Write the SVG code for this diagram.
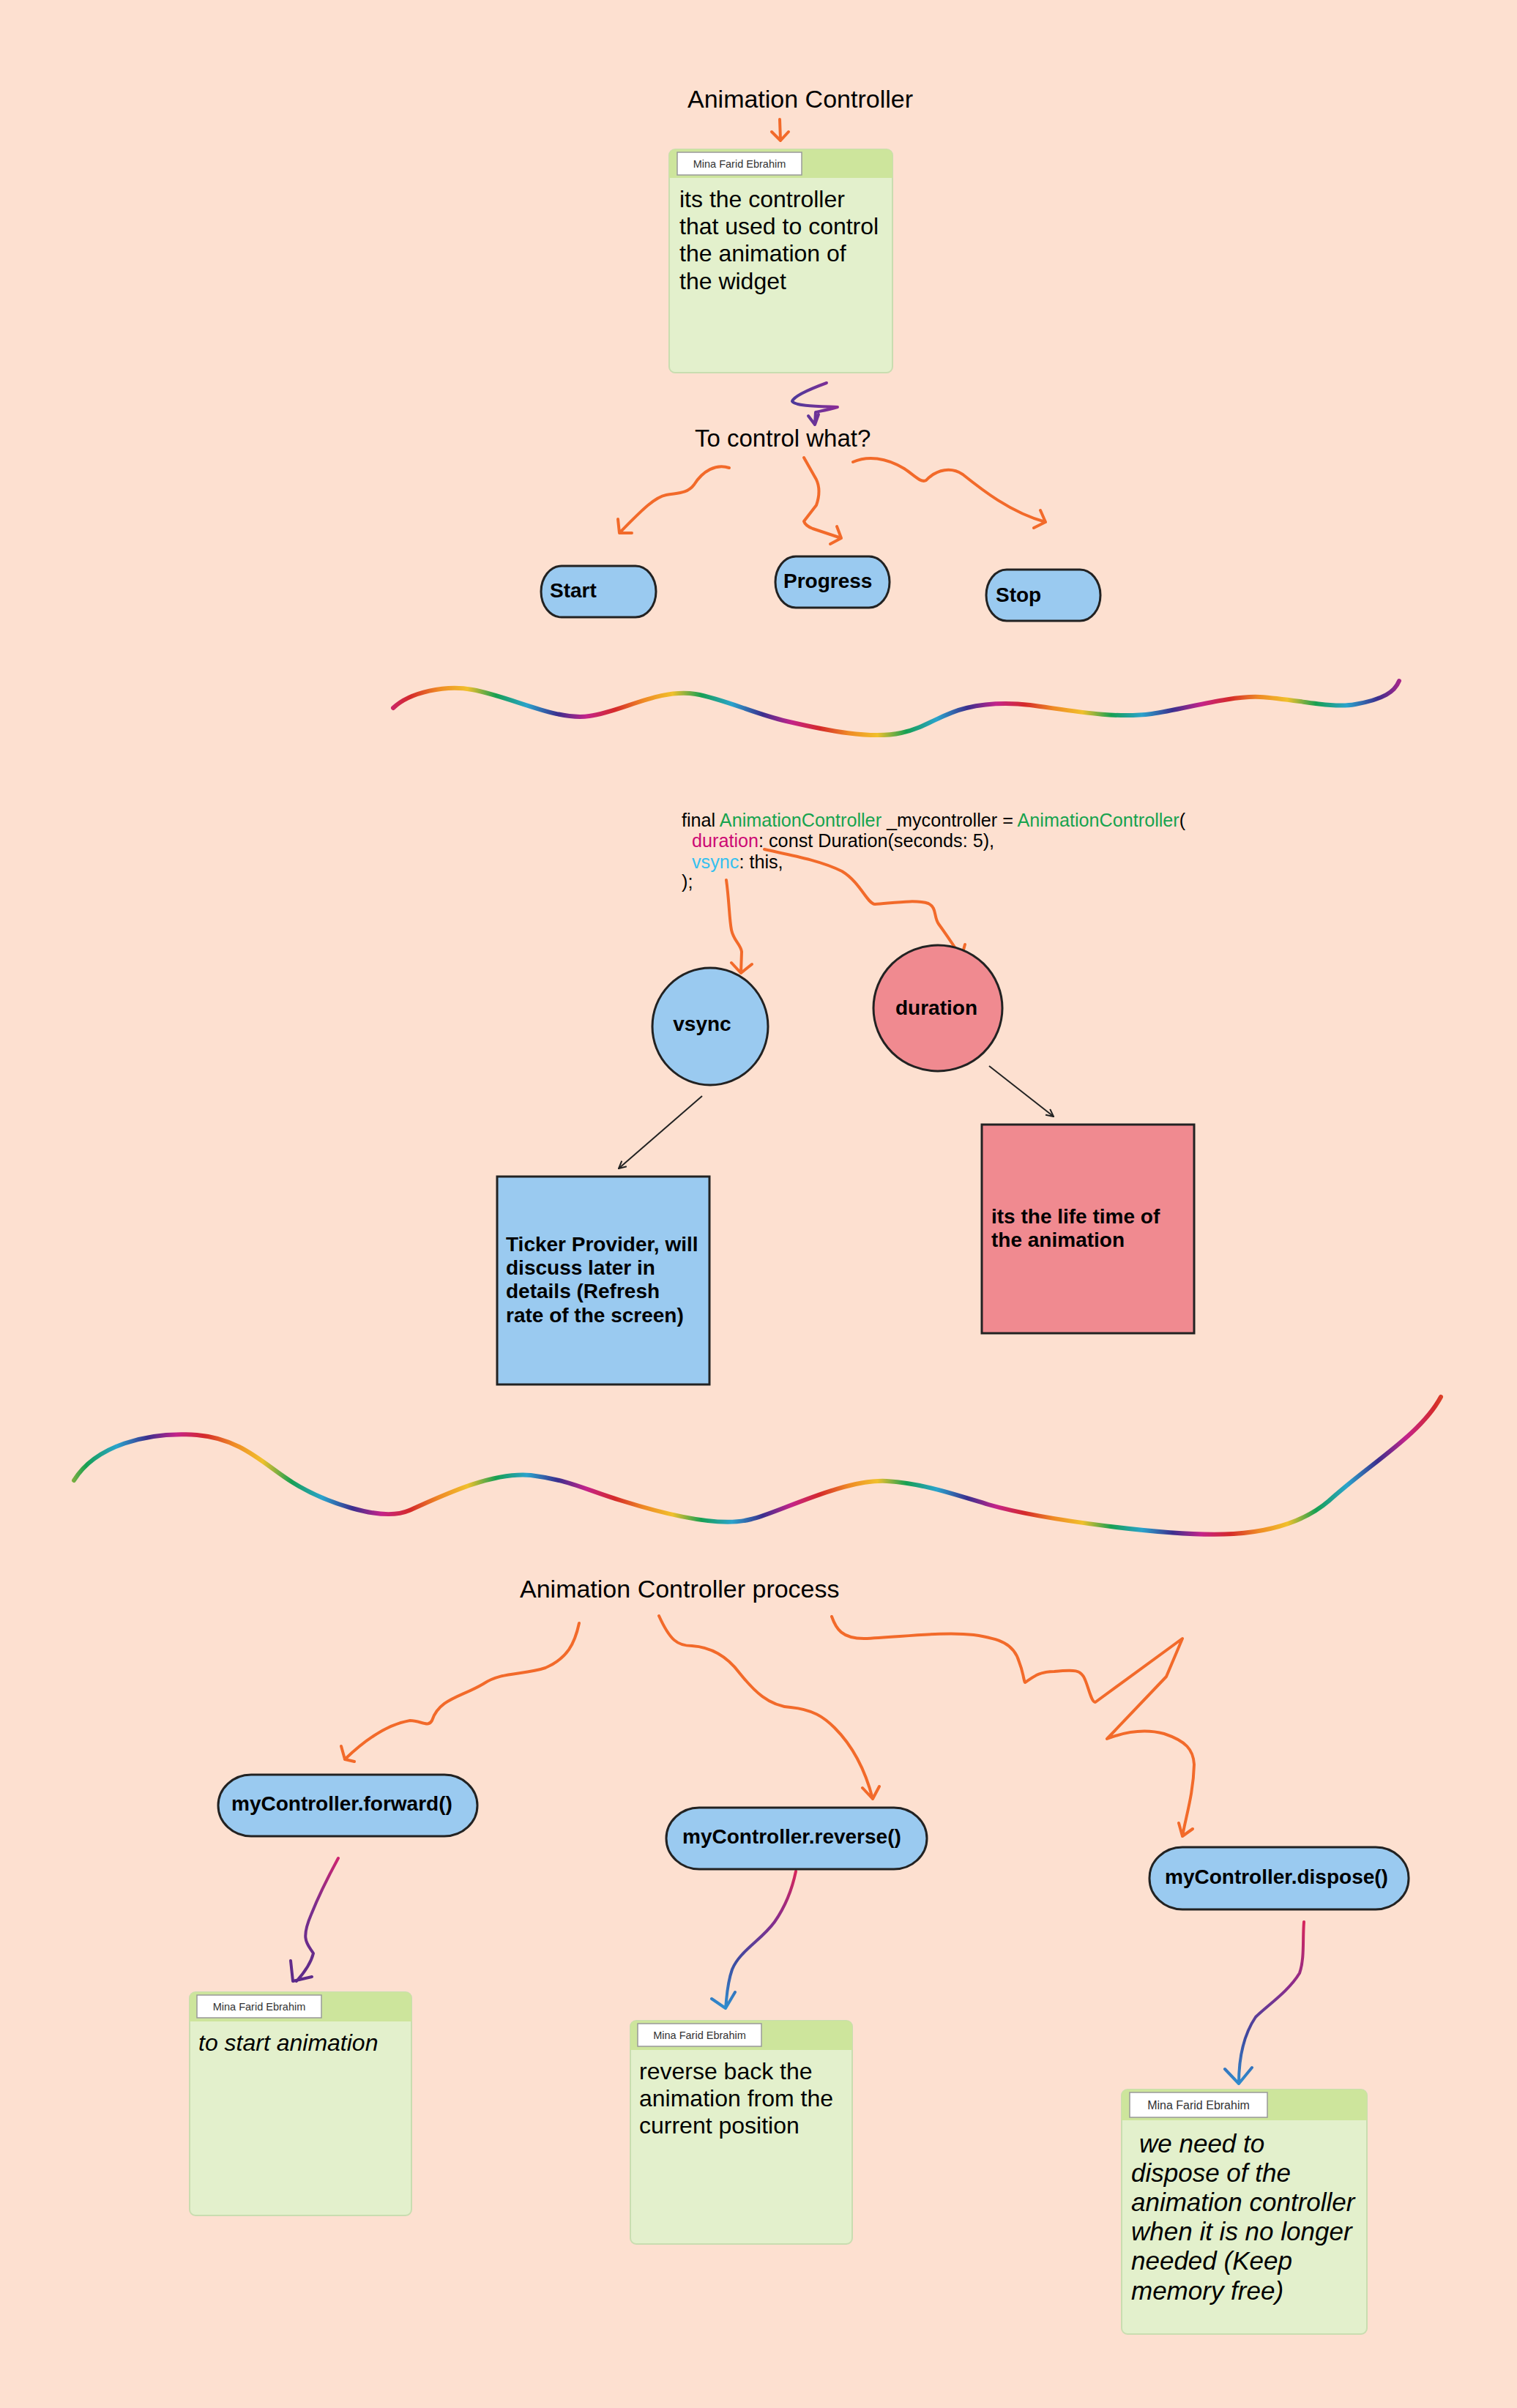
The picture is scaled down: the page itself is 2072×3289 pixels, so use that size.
<svg xmlns="http://www.w3.org/2000/svg" width="2072" height="3289" viewBox="0 0 2072 3289">
<defs>
<style>
.bg{fill:#fde0d0}
.t{font-family:"Liberation Sans",Arial,sans-serif;fill:#000}
.b{font-family:"Liberation Sans",Arial,sans-serif;font-weight:bold;font-size:28px;fill:#000}
.o{fill:none;stroke:#f26a2a;stroke-width:4;stroke-linecap:round;stroke-linejoin:round}
.k{fill:none;stroke:#222;stroke-width:2}
.node{stroke:#222;stroke-width:3}
.blue{fill:#9acaf0}
.pink{fill:#f08a90}
.note{fill:#e3f0cc;stroke:#c9ddb0;stroke-width:2}
.head{fill:#cde59c}
.label{fill:#fff;stroke:#999;stroke-width:1.5}
.lt{font-family:"Liberation Sans",Arial,sans-serif;font-size:14.5px;fill:#333;text-anchor:middle}
.lt16{font-size:16px}
.nt{font-family:"Liberation Sans",Arial,sans-serif;font-size:32px;fill:#000}
.nt35{font-size:35px}
.code{font-family:"Liberation Sans",Arial,sans-serif;font-size:25.2px;fill:#000}
.rb{fill:none;stroke-width:6;stroke-linecap:round}
</style>
<linearGradient id="rainbow" gradientUnits="userSpaceOnUse" x1="0" y1="0" x2="280" y2="0" spreadMethod="repeat">
<stop offset="0" stop-color="#d52a2a"/>
<stop offset="0.14" stop-color="#ef8a25"/>
<stop offset="0.28" stop-color="#f1c02c"/>
<stop offset="0.42" stop-color="#17a052"/>
<stop offset="0.57" stop-color="#2aa3cc"/>
<stop offset="0.72" stop-color="#3b2f8e"/>
<stop offset="0.86" stop-color="#c4238a"/>
<stop offset="1" stop-color="#d52a2a"/>
</linearGradient>
<linearGradient id="g1" gradientUnits="userSpaceOnUse" x1="0" y1="2535" x2="0" y2="2710">
<stop offset="0" stop-color="#d1256f"/>
<stop offset="0.4" stop-color="#7a2e8e"/>
<stop offset="1" stop-color="#5a2a8a"/>
</linearGradient>
<linearGradient id="g2" gradientUnits="userSpaceOnUse" x1="0" y1="2555" x2="0" y2="2745">
<stop offset="0" stop-color="#d8265a"/>
<stop offset="0.35" stop-color="#8a2c8c"/>
<stop offset="0.65" stop-color="#3d4aa0"/>
<stop offset="1" stop-color="#2f8fd0"/>
</linearGradient>
<linearGradient id="g3" gradientUnits="userSpaceOnUse" x1="0" y1="2622" x2="0" y2="2850">
<stop offset="0" stop-color="#d8265a"/>
<stop offset="0.4" stop-color="#8a2c8c"/>
<stop offset="0.7" stop-color="#3d4aa0"/>
<stop offset="1" stop-color="#2f8fd0"/>
</linearGradient>
<linearGradient id="gp" gradientUnits="userSpaceOnUse" x1="1080" y1="0" x2="1145" y2="0">
<stop offset="0" stop-color="#4a3a9a"/>
<stop offset="1" stop-color="#8a2c96"/>
</linearGradient>
<marker id="ah" viewBox="0 0 12 12" refX="11" refY="6" markerWidth="12" markerHeight="12" markerUnits="userSpaceOnUse" orient="auto">
<path d="M1,1 L11,6 L1,11" fill="none" stroke="#222" stroke-width="2"/>
</marker>
</defs>
<rect class="bg" x="0" y="0" width="2072" height="3289"/>

<g id="connectors">
<path class="o" d="M1065,163 L1066,191 M1054,180 L1066,192 L1077,180"/>
<path fill="none" stroke="url(#gp)" stroke-width="4" stroke-linecap="round" stroke-linejoin="round" d="M1129,523 C1110,530 1085,540 1082,548 C1086,555 1120,555 1144,556 C1130,560 1118,562 1114,563 L1113,580 M1104,568 L1113,580 L1118,566"/>
<path class="o" d="M996,639 C978,633 960,643 948,662 C938,675 925,673 910,676 C895,679 880,693 846,728 M844,709 L846,728 L863,728"/>
<path class="o" d="M1098,625 L1115,655 Q1122,670 1115,690 L1098,712 Q1100,718 1110,722 L1149,735 M1143,719 L1149,735 L1134,743"/>
<path class="o" d="M1165,631 C1185,622 1210,625 1235,640 C1250,650 1258,660 1265,656 C1280,640 1300,638 1315,648 C1340,668 1380,700 1428,713 M1421,697 L1428,713 L1412,721"/>
<path class="o" d="M992,1202 C996,1230 996,1255 999,1270 C1002,1285 1012,1290 1013,1300 L1012,1329 M999,1315 L1012,1329 L1027,1317"/>
<path class="o" d="M1044,1160 C1080,1168 1120,1175 1150,1190 C1175,1205 1185,1235 1195,1235 C1215,1234 1250,1228 1268,1234 C1280,1240 1275,1252 1282,1262 C1295,1280 1305,1295 1313,1308 M1318,1290 L1313,1308 L1295,1303"/>
<path class="k" marker-end="url(#ah)" d="M959,1497 L845,1596"/>
<path class="k" marker-end="url(#ah)" d="M1351,1456 L1439,1525"/>
<path class="o" d="M791,2217 C785,2245 775,2265 745,2278 C715,2288 685,2283 660,2300 C630,2318 600,2320 590,2350 C585,2360 575,2350 560,2350 C530,2355 500,2375 471,2403 M466,2385 L471,2403 L484,2406"/>
<path class="o" d="M900,2207 C915,2240 925,2248 945,2248 C975,2250 995,2265 1010,2285 C1030,2310 1050,2330 1080,2332 C1110,2335 1125,2345 1140,2360 C1170,2390 1185,2430 1192,2457 M1178,2442 L1192,2457 L1201,2440"/>
<path class="o" d="M1136,2208 C1142,2225 1150,2238 1180,2238 C1230,2236 1290,2228 1330,2233 C1365,2238 1385,2245 1392,2270 C1398,2285 1398,2295 1400,2298 C1412,2290 1420,2283 1440,2283 C1470,2280 1475,2282 1480,2290 C1486,2300 1490,2325 1496,2325 L1615,2238 L1593,2290 L1512,2375 C1530,2368 1560,2360 1590,2368 C1620,2378 1630,2390 1631,2410 C1630,2450 1620,2480 1615,2508 M1610,2490 L1615,2508 L1629,2498"/>
<path fill="none" stroke="url(#g1)" stroke-width="4" stroke-linecap="round" stroke-linejoin="round" d="M462,2538 C450,2560 435,2590 425,2615 C410,2650 420,2655 428,2668 C425,2680 415,2695 405,2706 M397,2678 L400,2706 L426,2700"/>
<path fill="none" stroke="url(#g2)" stroke-width="4" stroke-linecap="round" stroke-linejoin="round" d="M1087,2556 C1082,2580 1072,2605 1058,2625 C1040,2650 1010,2665 1000,2690 C993,2710 993,2725 991,2743 M972,2730 L991,2743 L1004,2721"/>
<path fill="none" stroke="url(#g3)" stroke-width="4" stroke-linecap="round" stroke-linejoin="round" d="M1781,2625 C1779,2650 1782,2675 1775,2695 C1760,2720 1730,2740 1715,2755 C1698,2780 1692,2810 1692,2846 M1673,2826 L1692,2846 L1710,2824"/>
</g>

<g id="wave1">
<path class="rb" stroke="url(#rainbow)" d="M537,967 C560,945 610,935 645,942 C700,952 760,985 805,978 C850,972 900,940 950,948 C990,955 1030,975 1074,985 C1130,998 1190,1010 1231,1001 C1265,994 1285,975 1320,967 C1350,960 1380,960 1407,963 C1460,970 1520,982 1573,975 C1620,968 1680,950 1721,952 C1770,955 1820,968 1851,962 C1890,955 1905,945 1911,930"/>
</g>
<g id="wave2">
<path class="rb" stroke="url(#rainbow)" d="M101,2022 C130,1975 200,1955 269,1960 C330,1965 360,2000 400,2025 C440,2050 520,2080 559,2063 C600,2045 670,2010 725,2015 C780,2022 800,2035 850,2050 C930,2075 990,2085 1026,2075 C1060,2068 1150,2020 1211,2023 C1260,2026 1300,2040 1350,2055 C1420,2075 1600,2100 1685,2095 C1730,2092 1780,2080 1815,2050 C1870,2000 1940,1960 1968,1908"/>
</g>

<g id="title">
<text class="t" x="1093" y="147" font-size="34" text-anchor="middle">Animation Controller</text>
</g>

<g id="note1">
<rect class="note" x="914" y="204" width="305" height="305" rx="8"/>
<path class="head" d="M914,243 V212 a8,8 0 0 1 8,-8 H1211 a8,8 0 0 1 8,8 V243 Z"/>
<rect class="label" x="925" y="208" width="170" height="31"/>
<text class="lt" x="1010" y="229">Mina Farid Ebrahim</text>
<text class="nt" x="928"><tspan x="928" y="283">its the controller</tspan><tspan x="928" y="320">that used to control</tspan><tspan x="928" y="357">the animation of</tspan><tspan x="928" y="395">the widget</tspan></text>
</g>

<g id="question">
<text class="t" x="949" y="610" font-size="33">To control what?</text>
</g>

<g id="start">
<rect class="node blue" x="739" y="773" width="157" height="70" rx="28" ry="35"/>
<text class="b" x="751" y="816">Start</text>
</g>
<g id="progress">
<rect class="node blue" x="1059" y="760" width="156" height="70" rx="28" ry="35"/>
<text class="b" x="1070" y="803">Progress</text>
</g>
<g id="stop">
<rect class="node blue" x="1347" y="778" width="156" height="70" rx="28" ry="35"/>
<text class="b" x="1360" y="822">Stop</text>
</g>

<g id="code">
<text class="code" x="931" y="1129">final <tspan fill="#16a34e">AnimationController</tspan> _mycontroller = <tspan fill="#16a34e">AnimationController</tspan>(</text>
<text class="code" x="945" y="1157"><tspan fill="#cc0a74">duration</tspan>: const Duration(seconds: 5),</text>
<text class="code" x="945" y="1186"><tspan fill="#35c0ef">vsync</tspan>: this,</text>
<text class="code" x="931" y="1213">);</text>
</g>

<g id="vsync">
<ellipse class="node blue" cx="970" cy="1402" rx="79" ry="80"/>
<text class="b" x="959" y="1408" text-anchor="middle">vsync</text>
</g>
<g id="duration">
<ellipse class="node pink" cx="1281" cy="1377" rx="88" ry="86"/>
<text class="b" x="1279" y="1386" text-anchor="middle">duration</text>
</g>

<g id="ticker">
<rect class="node blue" x="679" y="1607" width="290" height="284"/>
<text class="b"><tspan x="691" y="1709">Ticker Provider, will</tspan><tspan x="691" y="1741">discuss later in</tspan><tspan x="691" y="1773">details (Refresh</tspan><tspan x="691" y="1806">rate of the screen)</tspan></text>
</g>
<g id="lifetime">
<rect class="node pink" x="1341" y="1536" width="290" height="285"/>
<text class="b"><tspan x="1354" y="1671">its the life time of</tspan><tspan x="1354" y="1703">the animation</tspan></text>
</g>

<g id="process">
<text class="t" x="710" y="2182" font-size="34">Animation Controller process</text>
</g>

<g id="forward">
<rect class="node blue" x="298" y="2424" width="354" height="84" rx="45" ry="42"/>
<text class="b" x="316" y="2473">myController.forward()</text>
</g>
<g id="reverse">
<rect class="node blue" x="910" y="2469" width="356" height="84" rx="45" ry="42"/>
<text class="b" x="932" y="2518">myController.reverse()</text>
</g>
<g id="dispose">
<rect class="node blue" x="1570" y="2523" width="354" height="85" rx="45" ry="42"/>
<text class="b" x="1591" y="2573">myController.dispose()</text>
</g>

<g id="note2">
<rect class="note" x="259" y="2721" width="303" height="305" rx="8"/>
<path class="head" d="M259,2761 V2729 a8,8 0 0 1 8,-8 H554 a8,8 0 0 1 8,8 V2761 Z"/>
<rect class="label" x="269" y="2725" width="170" height="31"/>
<text class="lt" x="354" y="2746">Mina Farid Ebrahim</text>
<text class="nt" x="271" y="2801" font-style="italic">to start animation</text>
</g>

<g id="note3">
<rect class="note" x="861" y="2760" width="303" height="305" rx="8"/>
<path class="head" d="M861,2800 V2768 a8,8 0 0 1 8,-8 H1156 a8,8 0 0 1 8,8 V2800 Z"/>
<rect class="label" x="871" y="2764" width="169" height="31"/>
<text class="lt" x="955.5" y="2785">Mina Farid Ebrahim</text>
<text class="nt"><tspan x="873" y="2840">reverse back the</tspan><tspan x="873" y="2877">animation from the</tspan><tspan x="873" y="2914">current position</tspan></text>
</g>

<g id="note4">
<rect class="note" x="1532" y="2854" width="335" height="334" rx="8"/>
<path class="head" d="M1532,2896 V2862 a8,8 0 0 1 8,-8 H1859 a8,8 0 0 1 8,8 V2896 Z"/>
<rect class="label" x="1543" y="2858" width="188" height="34"/>
<text class="lt lt16" x="1637" y="2881">Mina Farid Ebrahim</text>
<text class="nt nt35" font-style="italic"><tspan x="1556" y="2940">we need to</tspan><tspan x="1545" y="2980">dispose of the</tspan><tspan x="1545" y="3020">animation controller</tspan><tspan x="1545" y="3060">when it is no longer</tspan><tspan x="1545" y="3100">needed (Keep</tspan><tspan x="1545" y="3141">memory free)</tspan></text>
</g>
</svg>
